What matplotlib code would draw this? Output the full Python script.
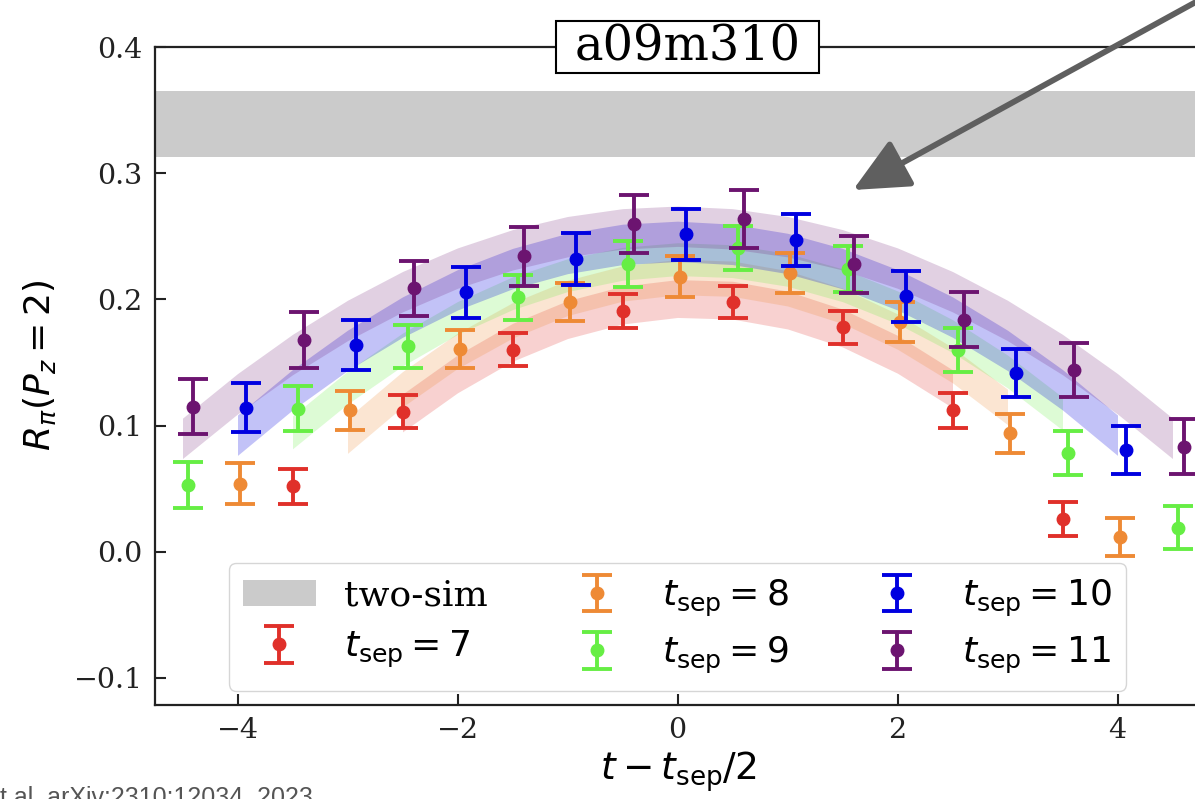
import matplotlib
matplotlib.use("Agg")
import matplotlib.pyplot as plt
import numpy as np
from matplotlib.patches import Patch

plt.rcParams['font.family'] = ['DejaVu Serif']
plt.rcParams['mathtext.fontset'] = 'dejavusans'

# ---------------- data ----------------
tsep_values = [7, 8, 9, 10, 11]
labels = [r'$t_{\rm sep}=7$', r'$t_{\rm sep}=8$', r'$t_{\rm sep}=9$',
          r'$t_{\rm sep}=10$', r'$t_{\rm sep}=11$']

x7 = [-3.5, -2.5, -1.5, -0.5, 0.5, 1.5, 2.5, 3.5]
y7 = [0.052, 0.111, 0.160, 0.191, 0.198, 0.178, 0.112, 0.026]
e7 = [0.014, 0.013, 0.013, 0.0135, 0.013, 0.013, 0.014, 0.0135]

x8 = [-4, -3, -2, -1, 0, 1, 2, 3, 4]
y8 = [0.054, 0.112, 0.161, 0.198, 0.218, 0.221, 0.182, 0.094, 0.012]
e8 = [0.016, 0.0155, 0.015, 0.015, 0.016, 0.016, 0.016, 0.0155, 0.015]

x9 = [-4.5, -3.5, -2.5, -1.5, -0.5, 0.5, 1.5, 2.5, 3.5, 4.5]
y9 = [0.053, 0.1135, 0.163, 0.2016, 0.228, 0.2405, 0.224, 0.160, 0.078, 0.019]
e9 = [0.018, 0.0175, 0.017, 0.018, 0.018, 0.0176, 0.018, 0.0176, 0.0175, 0.017]

x10 = [-4, -3, -2, -1, 0, 1, 2, 3, 4]
y10 = [0.114, 0.164, 0.2056, 0.232, 0.2516, 0.2468, 0.2024, 0.142, 0.081]
e10 = [0.0194, 0.020, 0.020, 0.0206, 0.020, 0.0206, 0.020, 0.019, 0.019]

x11 = [-4.5, -3.5, -2.5, -1.5, -0.5, 0.5, 1.5, 2.5, 3.5, 4.5]
y11 = [0.115, 0.168, 0.2087, 0.234, 0.2595, 0.264, 0.2278, 0.184, 0.1444, 0.0833]
e11 = [0.022, 0.022, 0.022, 0.023, 0.023, 0.023, 0.0225, 0.022, 0.0214, 0.022]

# fit bands (centre values, read at steps of 0.5)
bx7 = [-2.5, -2, -1.5, -1, -0.5, 0, 0.5, 1, 1.5, 2, 2.5]
bc7 = [0.110, 0.141, 0.166, 0.184, 0.1955, 0.2007, 0.1994, 0.1916, 0.1773, 0.1565, 0.1292]
bx8 = [-3, -2.5, -2, -1.5, -1, -0.5, 0, 0.5, 1, 1.5, 2, 2.5, 3]
bc8 = [0.092, 0.1288, 0.1593, 0.1834, 0.2012, 0.2126, 0.2177, 0.2164, 0.2088,
       0.1949, 0.1745, 0.1479, 0.1148]
bx9 = [-3.5, -3, -2.5, -2, -1.5, -1, -0.5, 0, 0.5, 1, 1.5, 2, 2.5, 3, 3.5]
bc9 = [0.0946, 0.1301, 0.1603, 0.1853, 0.2049, 0.2192, 0.2282, 0.2319, 0.2303,
       0.2234, 0.2112, 0.1937, 0.1709, 0.1429, 0.1095]
bx10 = [-4, -3.5, -3, -2.5, -2, -1.5, -1, -0.5, 0, 0.5, 1, 1.5, 2, 2.5, 3, 3.5, 4]
bc10 = [0.0924, 0.1284, 0.1596, 0.186, 0.2076, 0.2244, 0.2364, 0.2436, 0.246,
        0.2436, 0.2364, 0.2244, 0.2076, 0.186, 0.1596, 0.1284, 0.0924]
bx11 = [-4.5, -4, -3.5, -3, -2.5, -2, -1.5, -1, -0.5, 0, 0.5, 1, 1.5, 2, 2.5, 3,
        3.5, 4, 4.5]
bc11 = [0.0899, 0.1252, 0.1563, 0.1833, 0.2061, 0.2248, 0.2393, 0.2497, 0.2559,
        0.258, 0.2559, 0.2497, 0.2393, 0.2248, 0.2061, 0.1833, 0.1563, 0.1252, 0.0899]
band_halfwidth = [0.015, 0.014, 0.013, 0.016, 0.016]

two_sim_low, two_sim_high = 0.3127, 0.365

# ---------------- styles ----------------
colors = ['#e0302a', '#ee8a35', '#66ee44', '#0000e0', '#6c1470']
band_alpha = [0.22, 0.22, 0.22, 0.24, 0.2]
x_offsets = [0.0, 0.025, 0.05, 0.075, 0.1]

W, H = 1195, 799
fig = plt.figure(figsize=(W / 100, H / 100), dpi=100)
ax = fig.add_axes([155 / W, (H - 705) / H, (1200 - 155) / W, (705 - 47) / H])

ax.axhspan(two_sim_low, two_sim_high, color='#cbcbcb', lw=0, zorder=1)

xs = [x7, x8, x9, x10, x11]
ys = [y7, y8, y9, y10, y11]
es = [e7, e8, e9, e10, e11]
bxs = [bx7, bx8, bx9, bx10, bx11]
bcs = [bc7, bc8, bc9, bc10, bc11]

handles = [Patch(facecolor='#cbcbcb', edgecolor='none', label='two-sim')]
for i in range(5):
    bx = np.array(bxs[i])
    bc = np.array(bcs[i])
    w = band_halfwidth[i]
    ax.fill_between(bx, bc - w, bc + w, color=colors[i], alpha=band_alpha[i],
                    lw=0, zorder=2)
for i in range(5):
    xx = np.array(xs[i]) + x_offsets[i]
    h = ax.errorbar(xx, ys[i], yerr=es[i], fmt='o', color=colors[i], ms=9,
                    elinewidth=2.8, capsize=11, capthick=2.8, zorder=3 + i,
                    label=labels[i])
    handles.append(h)

ax.set_xlim(-4.75, 4.75)
ax.set_ylim(-0.1214, 0.4)
ax.set_xticks([-4, -2, 0, 2, 4])
ax.set_yticks([-0.1, 0.0, 0.1, 0.2, 0.3, 0.4])
ax.tick_params(direction='in', length=8, width=1.5, labelsize=20.5, pad=9,
               colors='#222222')
for s in ax.spines.values():
    s.set_linewidth(1.6)
    s.set_color('#222222')

leg = ax.legend(handles=handles, ncol=3, loc='lower center', fontsize=26,
                borderaxespad=0.4, handlelength=2.0, columnspacing=2.0,
                labelspacing=0.45)

ax.text(0.5 + 10 / 1045, 1.0, 'a09m310', transform=ax.transAxes, ha='center',
        va='center', fontsize=34.5, zorder=20,
        bbox=dict(boxstyle='square,pad=0.38', fc='white', ec='black', lw=1.5,
                  mutation_aspect=0.14))

fig.text(40 / W, (H - 365) / H, r'$R_{\pi}(P_z=2)$', rotation=90,
         ha='center', va='center', fontsize=26)
fig.text(678 / W, (H - 772) / H, r'$t-t_{\rm sep}/2$', ha='center',
         va='center', fontsize=27)

ax.annotate('', xy=(853, H - 190), xycoords='figure pixels',
            xytext=(1205, H + 3), textcoords='figure pixels',
            arrowprops=dict(arrowstyle='-|>,head_length=3.4,head_width=1.6',
                            color='#5f5f5f', lw=4.2, shrinkA=0, shrinkB=0),
            annotation_clip=False)

fig.text(0.0, (H - 805) / H, 't al. arXiv:2310:12034, 2023',
         family='Liberation Sans', fontsize=18, color='#555555',
         ha='left', va='baseline')

fig.savefig('out.png', dpi=100)
